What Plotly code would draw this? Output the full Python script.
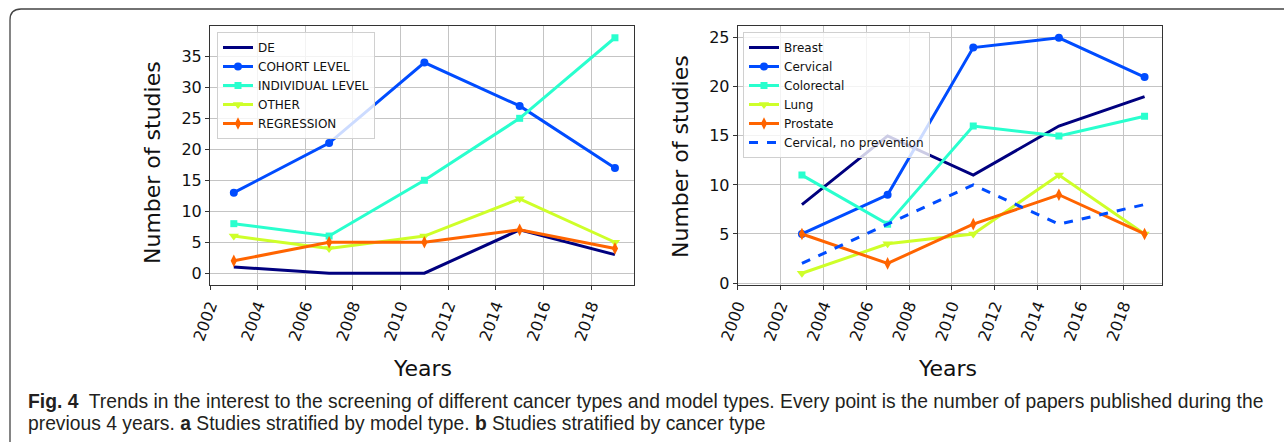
import plotly.graph_objects as go

W, H = 1284, 442

years = [2003, 2007, 2011, 2015, 2019]

# Panel a: model types
model_names = ["DE", "COHORT LEVEL", "INDIVIDUAL LEVEL", "OTHER", "REGRESSION"]
de = [1, 0, 0, 7, 3]
cohort = [13, 21, 34, 27, 17]
individual = [8, 6, 15, 25, 38]
other = [6, 4, 6, 12, 5]
regression = [2, 5, 5, 7, 4]

# Panel b: cancer types
cancer_names = ["Breast", "Cervical", "Colorectal", "Lung", "Prostate", "Cervical, no prevention"]
breast = [8, 15, 11, 16, 19]
cervical = [5, 9, 24, 25, 21]
colorectal = [11, 6, 16, 15, 17]
lung = [1, 4, 5, 11, 5]
prostate = [5, 2, 6, 9, 5]
cervical_noprev = [2, 6, 10, 6, 8]

x_ticks_a = list(range(2002, 2019, 2))
x_ticks_b = list(range(2000, 2019, 2))

colors = ["#00007f", "#004cff", "#29ffce", "#ceff29", "#ff6400"]
symbols = [None, "circle", "square", "triangle-down", "diamond-tall"]
msizes = [0, 8, 7, 9, 9]

FONT = "DejaVu Sans"

def px_x(p):
    return p / W

def px_y(p):
    return 1 - p / H

fig = go.Figure()

series_a = [de, cohort, individual, other, regression]
for i, (name, vals) in enumerate(zip(model_names, series_a)):
    fig.add_trace(go.Scatter(
        x=years, y=vals, name=name, xaxis="x", yaxis="y", legend="legend",
        mode="lines" if symbols[i] is None else "lines+markers",
        line=dict(color=colors[i], width=3),
        marker=dict(symbol=symbols[i] or "circle", size=msizes[i], color=colors[i]),
    ))

series_b = [breast, cervical, colorectal, lung, prostate]
for i, (name, vals) in enumerate(zip(cancer_names[:5], series_b)):
    fig.add_trace(go.Scatter(
        x=years, y=vals, name=name, xaxis="x2", yaxis="y2", legend="legend2",
        mode="lines" if symbols[i] is None else "lines+markers",
        line=dict(color=colors[i], width=3),
        marker=dict(symbol=symbols[i] or "circle", size=msizes[i], color=colors[i]),
    ))
fig.add_trace(go.Scatter(
    x=years, y=cervical_noprev, name=cancer_names[5], xaxis="x2", yaxis="y2",
    legend="legend2", mode="lines",
    line=dict(color=colors[1], width=3, dash="dash"),
))

axis_common = dict(
    automargin=False,
    showline=True, mirror=True, linecolor="#333333", linewidth=1,
    showgrid=True, gridcolor="#c4c4c4", gridwidth=1,
    ticks="outside", ticklen=4, tickcolor="#333333",
    tickfont=dict(family=FONT, size=16, color="#111111"),
    zeroline=False,
)

legend_common = dict(
    xanchor="left", yanchor="top",
    bgcolor="rgba(255,255,255,0.8)", bordercolor="#d0d0d0", borderwidth=1,
    font=dict(family=FONT, size=12, color="#111111"), itemwidth=30,
    tracegroupgap=0,
)

dom_y = [px_y(285), px_y(26)]
fig.update_layout(
    width=W, height=H, autosize=False,
    margin=dict(l=0, r=0, t=0, b=0, pad=0, autoexpand=False),
    paper_bgcolor="white", plot_bgcolor="white",
    xaxis=dict(domain=[px_x(210), px_x(634)], range=[2002, 2019.8],
               tickvals=x_ticks_a, tickangle=-70, anchor="y", **axis_common),
    yaxis=dict(domain=dom_y, range=[-1.9, 39.9], dtick=5, anchor="x", **axis_common),
    xaxis2=dict(domain=[px_x(737.7), px_x(1161.7)], range=[2000, 2019.8],
                tickvals=x_ticks_b, tickangle=-70, anchor="y2", **axis_common),
    yaxis2=dict(domain=dom_y, range=[-0.2, 26.2], dtick=5, anchor="x2", **axis_common),
    legend=dict(x=px_x(217), y=px_y(32), **legend_common),
    legend2=dict(x=px_x(743), y=px_y(32), **legend_common),
    showlegend=True,
)

title_font = dict(family=FONT, size=22, color="#111111")
ann = [
    dict(text="Years", x=px_x(422), y=px_y(368), font=title_font),
    dict(text="Years", x=px_x(947), y=px_y(368), font=title_font),
    dict(text="Number of studies", x=px_x(152.5), y=px_y(162.5), textangle=-90, font=title_font),
    dict(text="Number of studies", x=px_x(680), y=px_y(156), textangle=-90, font=title_font),
]
for a in ann:
    fig.add_annotation(xref="paper", yref="paper", showarrow=False,
                       xanchor="center", yanchor="middle", **a)

cap_font = dict(family="Liberation Sans, Arial", size=19.3, color="#231f20")
fig.add_annotation(
    xref="paper", yref="paper", showarrow=False, xanchor="left", yanchor="middle",
    x=px_x(26), y=px_y(401), font=cap_font,
    text="<b>Fig. 4</b>  Trends in the interest to the screening of different cancer types and model types. "
         "Every point is the number of papers published during the",
)
fig.add_annotation(
    xref="paper", yref="paper", showarrow=False, xanchor="left", yanchor="middle",
    x=px_x(26), y=px_y(423), font=cap_font,
    text="previous 4 years. <b>a</b> Studies stratified by model type. <b>b</b> Studies stratified by cancer type",
)

# Figure frame (top and left edges with rounded corner)
r = 11
x0, y0 = 10, 9
path = (f"M {px_x(x0)},{px_y(H)} L {px_x(x0)},{px_y(y0 + r)} "
        f"Q {px_x(x0)},{px_y(y0)} {px_x(x0 + r)},{px_y(y0)} L {px_x(W)},{px_y(y0)}")
fig.add_shape(type="path", path=path, xref="paper", yref="paper",
              line=dict(color="#444444", width=1.3))

page_css = ("document.documentElement.style.margin='0';"
            "document.documentElement.style.padding='0';"
            "document.documentElement.style.overflow='hidden';"
            "document.body.style.margin='0';"
            "document.body.style.padding='0';"
            "document.body.style.overflow='hidden';")

fig.write_html("out.html", post_script=page_css, config={"displayModeBar": False})
